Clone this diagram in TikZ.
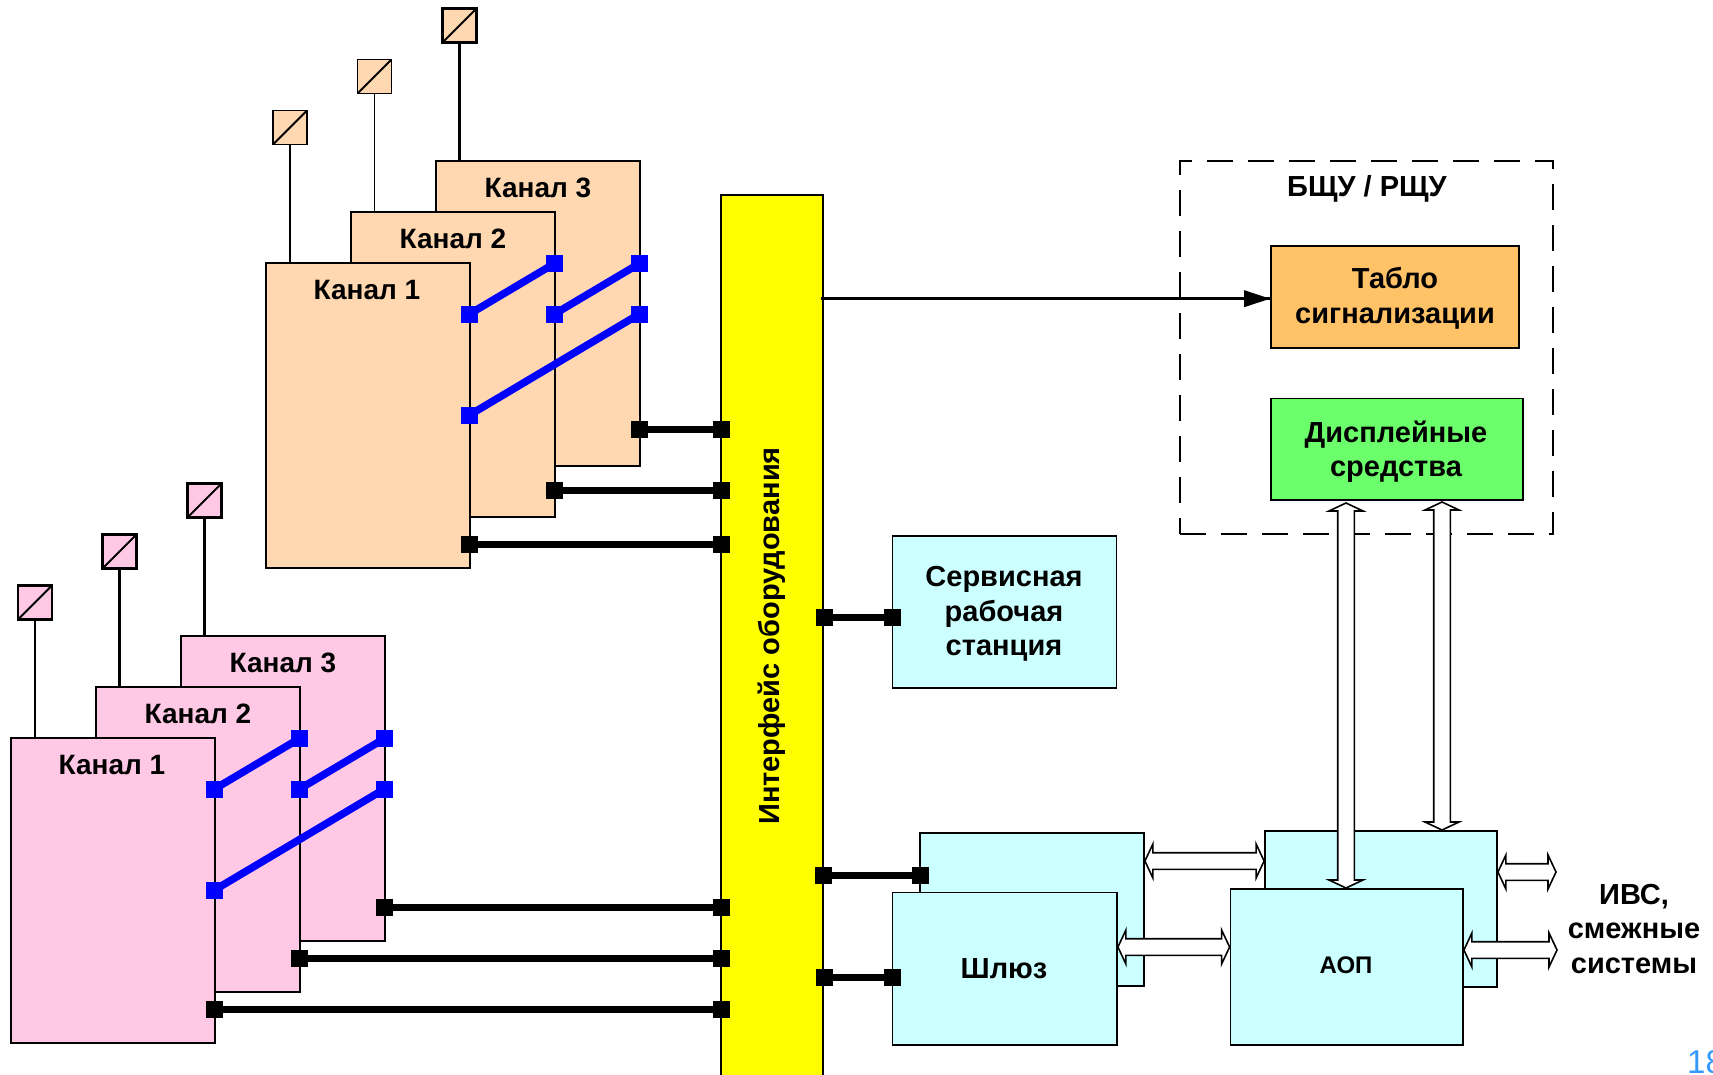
\documentclass[tikz,border=0pt]{standalone}
\usepackage{fontspec}
\setmainfont{Liberation Sans}
\usetikzlibrary{fit,calc}
\definecolor{cpink}{HTML}{FFC8E4}
\definecolor{corange}{HTML}{FFD7B1}
\definecolor{ccyan}{HTML}{CCFFFF}
\definecolor{ctablo}{HTML}{FFC266}
\definecolor{cdisp}{HTML}{6CFF6C}
\definecolor{cnum}{HTML}{3399FF}
\definecolor{cyell}{HTML}{FFFF00}
\definecolor{cblue}{HTML}{0000FF}
\tikzset{
  box/.style={draw=black,line width=1.8pt,inner sep=0pt,align=center,font=\fontsize{29}{34.5}\selectfont\bfseries},
  chan/.style={draw=black,inner sep=0pt},
  lab/.style={inner sep=0pt,align=center,font=\fontsize{29}{34.5}\selectfont\bfseries},
  chlab/.style={inner sep=0pt,font=\fontsize{28}{34}\selectfont\bfseries},
  term/.style={fill=black,draw=none,minimum size=17pt,inner sep=0pt},
  bterm/.style={fill=cblue,draw=none,minimum size=17pt,inner sep=0pt},
  bus/.style={line width=7pt,black},
  blink/.style={line width=7.5pt,cblue},
  sens/.style={draw=black,minimum size=34pt,inner sep=0pt,path picture={\draw[line width=2pt] (path picture bounding box.south west)--(path picture bounding box.north east);}},
  fatarrow/.style={draw=black,fill=white,line width=1.6pt,line join=miter}
}
\newcommand{\dblarrow}[2]{%
  \coordinate (da) at (#1);\coordinate (db) at (#2);
  \coordinate (ca) at ($(da)!8pt!(db)$);\coordinate (cb) at ($(db)!8pt!(da)$);
  \draw[fatarrow] (da)
    -- ($(ca)!17pt!90:(cb)$) -- ($(ca)!8.3pt!90:(cb)$)
    -- ($(cb)!8.3pt!-90:(ca)$) -- ($(cb)!17pt!-90:(ca)$) -- (db)
    -- ($(cb)!17pt!90:(ca)$) -- ($(cb)!8.3pt!90:(ca)$)
    -- ($(ca)!8.3pt!-90:(cb)$) -- ($(ca)!17pt!-90:(cb)$) -- cycle;
}
% #1 prefix, #2 dx, #3 dy, #4 fill, #5 #6 #7 bus y (group coordinates), #8 #9 line widths of channels 1-2 and 3
\newcommand{\chgroup}[9]{%
\begin{scope}[shift={(#2,#3)}]
  \node[sens,line width=#9,fill=#4] (#1s3) at (204.5,500.5) {};
  \node[sens,line width=#8,fill=#4] (#1s2) at (119.5,551.5) {};
  \node[sens,line width=#8,fill=#4] (#1s1) at (35,602.5) {};
  \node[chan,line width=#9,fill=#4,fit={(181,636)(385,941)}] (#1c3) {};
  \node[chan,line width=#8,fill=#4,fit={(96,687)(300,992)}] (#1c2) {};
  \node[chan,line width=#8,fill=#4,fit={(11,738)(215,1043)}] (#1c1) {};
  \draw[line width=#9] (#1s3.south) -- (#1s3.south |- #1c3.north);
  \draw[line width=#8] (#1s2.south) -- (#1s2.south |- #1c2.north);
  \draw[line width=#8] (#1s1.south) -- (#1s1.south |- #1c1.north);
  \node[chlab] (#1l3) at (283,662.5) {Канал 3};
  \node[chlab] (#1l2) at (198,713.5) {Канал 2};
  \node[chlab] (#1l1) at (112,764.5) {Канал 1};
  \node[bterm] (#1a) at (214.5,789) {};
  \node[bterm] (#1b) at (299.5,738.5) {};
  \node[bterm] (#1c) at (299.5,789) {};
  \node[bterm] (#1d) at (384.5,738.5) {};
  \node[bterm] (#1e) at (214.5,890) {};
  \node[bterm] (#1f) at (384.5,789) {};
  \draw[blink] (#1a.center) -- (#1b.center);
  \draw[blink] (#1c.center) -- (#1d.center);
  \draw[blink] (#1e.center) -- (#1f.center);
  \node[term] (#1t3) at (384.5,#5) {};
  \node[term] (#1t2) at (299.5,#6) {};
  \node[term] (#1t1) at (214.5,#7) {};
  \node[term,xshift=1pt] (#1y3) at (yb.west |- #1t3) {};
  \node[term,xshift=1pt] (#1y2) at (yb.west |- #1t2) {};
  \node[term,xshift=1pt] (#1y1) at (yb.west |- #1t1) {};
  \draw[bus] (#1t3.center) -- (#1y3.center);
  \draw[bus] (#1t2.center) -- (#1y2.center);
  \draw[bus] (#1t1.center) -- (#1y1.center);
\end{scope}}
\begin{document}
\begin{tikzpicture}[x=1pt,y=-1pt]
\path[use as bounding box,fill=white] (0,0) rectangle (1713,1074);
\clip (0,0) rectangle (1713,1074);
% yellow bus
\node[draw=black,line width=1.8pt,fill=cyell,inner sep=0pt,fit={(721,195)(823,1090)}] (yb) {};
\node[lab,rotate=90] (ybt) at (772,636) {Интерфейс оборудования};
% channels
\chgroup{o}{255}{-475}{corange}{904.5}{965.5}{1019}{1.6pt}{2.8pt}
\chgroup{p}{0}{0}{cpink}{907}{958}{1009.5}{2.1pt}{2.2pt}
% service station
\node[box,fill=ccyan,fit={(892.5,536)(1116.5,688)}] (srv) {};
\node[lab] (srvt) at (1004,614) {Сервисная\\рабочая\\станция};
\node[term] (srvy) at (824.5,617) {};
\node[term] (srvs) at (892.5,617) {};
\draw[bus] (srvy.center) -- (srvs.center);
% gateways
\node[box,fill=ccyan,fit={(920,833)(1144,986)}] (gwb) {};
\node[box,fill=ccyan,fit={(892.5,892.5)(1117,1045)}] (gwf) {};
\node[lab] (gwt) at (1004,969) {Шлюз};
\node[term] (gby) at (823.5,875) {};
\node[term] (gbs) at (920,875) {};
\draw[bus] (gby.center) -- (gbs.center);
\node[term] (gfy) at (824.5,977) {};
\node[term] (gfs) at (892.5,977) {};
\draw[bus] (gfy.center) -- (gfs.center);
% AOP
\node[box,fill=ccyan,fit={(1265,831)(1497,987)}] (aob) {};
\node[box,fill=ccyan,fit={(1230.5,889)(1463,1045)}] (aof) {};
\node[lab,font=\fontsize{24}{28}\selectfont\bfseries] (aot) at (1346,965.5) {АОП};
% control room
\node[draw=black,line width=1.6pt,dash pattern=on 26pt off 15pt,inner sep=0pt,fit={(1180,161)(1553,534)}] (room) {};
\node[lab] (roomt) at (1367,188.5) {БЩУ / РЩУ};
\node[box,fill=ctablo,fit={(1271,246)(1519,348)}] (tablo) {};
\node[lab] (tablot) at (1395,298) {Табло\\сигнализации};
\node[box,fill=cdisp,fit={(1271,398.5)(1523,500)}] (disp) {};
\node[lab] (dispt) at (1396,451.5) {Дисплейные\\средства};
% arrow to tablo
\coordinate (yout) at (821,298.7);
\draw[line width=2.6pt] (yout) -- (yout -| tablo.west);
\fill (tablo.west |- yout) -- ++(-26,-8.5) -- ++(0,17) -- cycle;
% double arrows
\coordinate (a1t) at (1346,503);
\coordinate (a1b) at (1346,888);
\coordinate (a2t) at (1442,502);
\coordinate (a2b) at (1442,830);
\dblarrow{a1t}{a1b}
\dblarrow{a2t}{a2b}
\coordinate (h1) at (gwb.east |- 0,861);
\coordinate (h1r) at (aob.west |- 0,861);
\dblarrow{h1}{h1r}
\coordinate (h2) at (gwf.east |- 0,947);
\coordinate (h2r) at (aof.west |- 0,947);
\dblarrow{h2}{h2r}
\coordinate (h3) at (aob.east |- 0,872);
\coordinate (h3r) at (1556,872);
\dblarrow{h3}{h3r}
\coordinate (h4) at (aof.east |- 0,950);
\coordinate (h4r) at (1557,950);
\dblarrow{h4}{h4r}
% external label
\node[lab] (ivs) at (1634,929) {ИВС,\\смежные\\системы};
% page number
\node[anchor=north west,inner sep=0pt,text=cnum,font=\fontsize{33}{36}\selectfont] (pg) at (1687,1050) {18};
\end{tikzpicture}
\end{document}
